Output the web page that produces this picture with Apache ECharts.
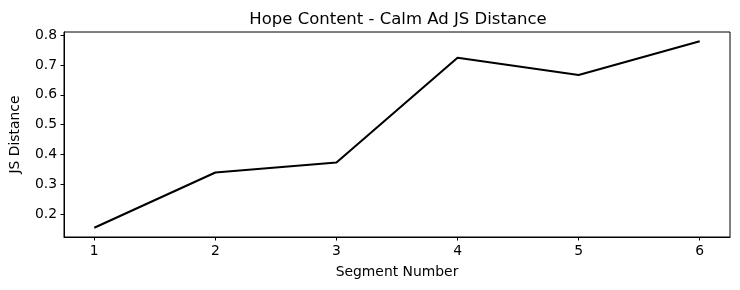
<!DOCTYPE html>
<html>
<head>
<meta charset="utf-8">
<script src="https://cdn.jsdelivr.net/npm/echarts@6/dist/echarts.min.js"></script>
<style>html,body{margin:0;padding:0;background:#fff;}#c{width:740px;height:290px;}</style>
</head>
<body>
<div id="c"></div>
<script>
var segments = [1, 2, 3, 4, 5, 6];
var jsDistance = [0.155, 0.340, 0.373, 0.724, 0.666, 0.779];
var xTicks = [1, 2, 3, 4, 5, 6];
var yTicks = [0.2, 0.3, 0.4, 0.5, 0.6, 0.7, 0.8];

var chart = echarts.init(document.getElementById('c'), null, {renderer: 'canvas'});
var font = 'DejaVu Sans';
var yMinD = Math.min.apply(null, jsDistance), yMaxD = Math.max.apply(null, jsDistance);
var yPad = (yMaxD - yMinD) * 0.05;
var xPad = (segments[segments.length - 1] - segments[0]) * 0.05;
chart.setOption({
  animation: false,
  backgroundColor: '#ffffff',
  title: {
    text: 'Hope Content - Calm Ad JS Distance',
    left: 393, top: 6, textAlign: 'center',
    textStyle: {fontFamily: font, fontSize: 16.5, fontWeight: 'normal', color: '#000'}
  },
  grid: {left: 62, right: 10, top: 32, bottom: 53, show: true, borderColor: '#000', borderWidth: 1, containLabel: false},
  xAxis: {
    type: 'value',
    min: segments[0] - xPad, max: segments[segments.length - 1] + xPad,
    name: 'Segment Number', nameLocation: 'middle', nameGap: 28,
    nameTextStyle: {fontFamily: font, fontSize: 13.9, color: '#000'},
    axisLine: {show: true, lineStyle: {color: '#000', width: 1}},
    axisTick: {show: true, length: 3.5, inside: false, customValues: xTicks, lineStyle: {color: '#000', width: 1}},
    axisLabel: {show: true, margin: 7, customValues: xTicks, fontFamily: font, fontSize: 13.9, color: '#000'},
    splitLine: {show: false}
  },
  yAxis: {
    type: 'value',
    min: yMinD - yPad, max: yMaxD + yPad,
    name: 'JS Distance', nameLocation: 'middle', nameGap: 42, nameRotate: 90,
    nameTextStyle: {fontFamily: font, fontSize: 13.9, color: '#000'},
    axisLine: {show: true, lineStyle: {color: '#000', width: 1}},
    axisTick: {show: true, length: 3.5, inside: false, customValues: yTicks, lineStyle: {color: '#000', width: 1}},
    axisLabel: {show: true, margin: 7, customValues: yTicks, fontFamily: font, fontSize: 13.9, color: '#000',
      formatter: function (v) { return v.toFixed(1); }},
    splitLine: {show: false}
  },
  series: [{
    type: 'line',
    data: segments.map(function (s, i) { return [s, jsDistance[i]]; }),
    showSymbol: false, symbol: 'none',
    lineStyle: {color: '#000', width: 2.08},
    itemStyle: {color: '#000'}
  }]
});
</script>
</body>
</html>
